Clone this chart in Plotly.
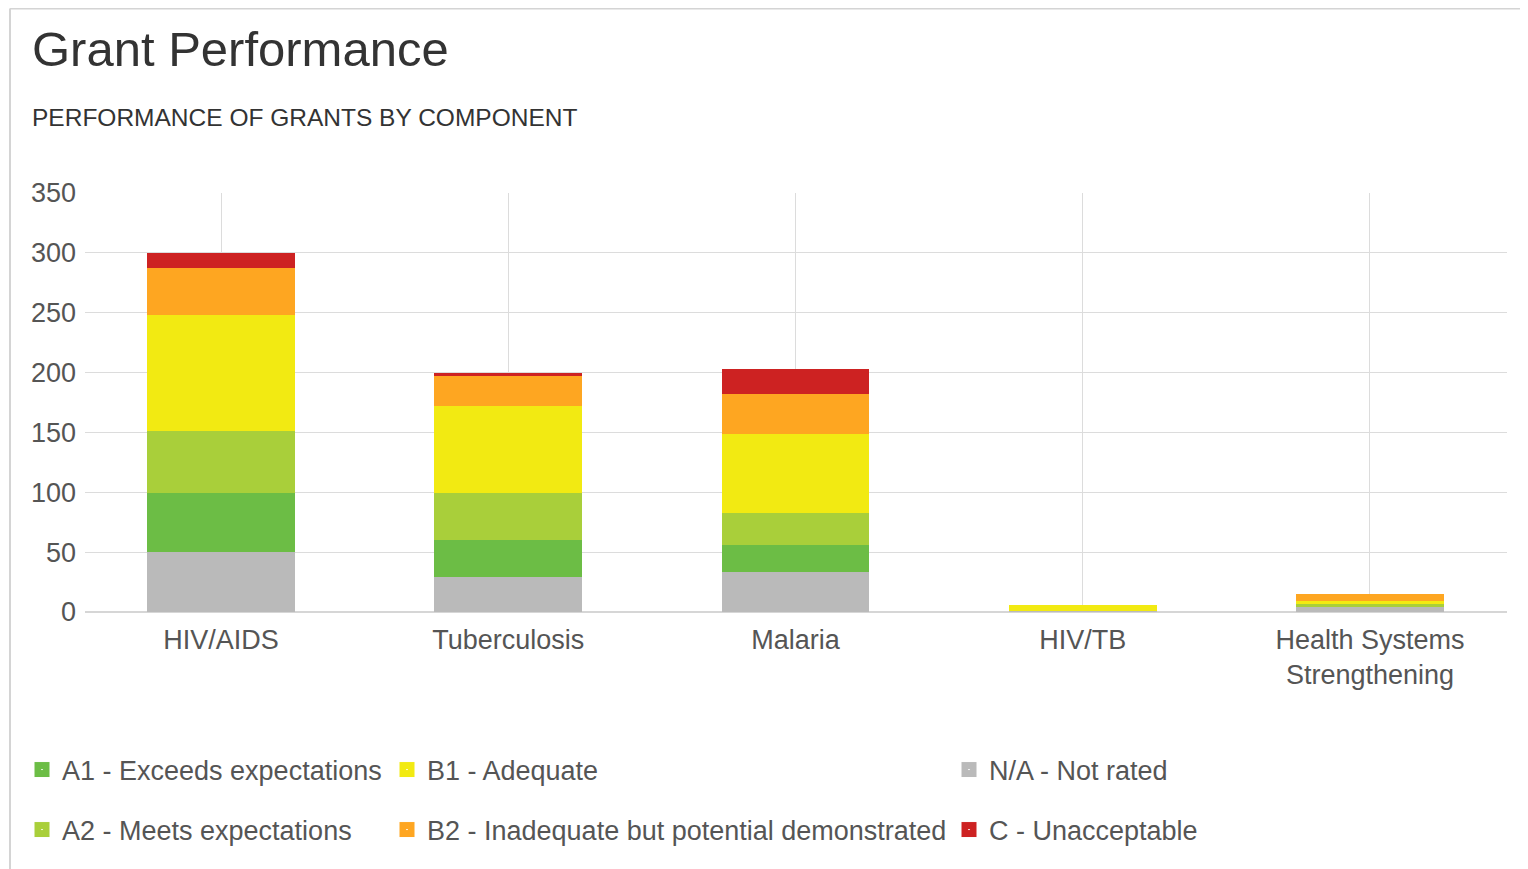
import plotly.graph_objects as go

# Grant counts by component and rating
components = ["HIV/AIDS", "Tuberculosis", "Malaria", "HIV/TB", "Health Systems<br>Strengthening"]
na_not_rated = [50, 29, 33, 1, 4]
a1_exceeds = [49, 31, 23, 0, 0]
a2_meets = [52, 39, 27, 0, 3]
b1_adequate = [97, 73, 66, 5, 2]
b2_inadequate = [39, 25, 33, 0, 6]
c_unacceptable = [13, 3, 21, 0, 0]

series = [
    ("N/A - Not rated", na_not_rated, "#bababa", "legend5"),
    ("A1 - Exceeds expectations", a1_exceeds, "#6cbd45", "legend"),
    ("A2 - Meets expectations", a2_meets, "#a9cf3a", "legend2"),
    ("B1 - Adequate", b1_adequate, "#f2ea12", "legend3"),
    ("B2 - Inadequate but potential demonstrated", b2_inadequate, "#fea621", "legend4"),
    ("C - Unacceptable", c_unacceptable, "#cd2222", "legend6"),
]

# page body has an 8px margin, so work in screen pixels and shift by it
OFF = 8
W, H = 1528 - OFF, 869 - OFF
L, R, T, B = 85 - OFF, 1507 - OFF, 193 - OFF, 612 - OFF  # plot area


def px_x(x):
    return (x - OFF - L) / (R - L)


def px_y(y):
    return (B - (y - OFF)) / (B - T)


FONT = "Liberation Sans, Arial, sans-serif"

fig = go.Figure()

for name, vals, color, lg in series:
    fig.add_trace(go.Bar(
        x=components, y=vals, name=name,
        marker_color=color, marker_line_width=0,
        showlegend=False,
    ))

# legend-only markers, one legend per entry to get the column layout
for name, vals, color, lg in series:
    fig.add_trace(go.Scatter(
        x=[None], y=[None], mode="markers", name=name,
        marker=dict(symbol="square-dot", size=18, color=color,
                    line=dict(color="white", width=1)),
        legend=lg,
    ))

leg_common = dict(
    orientation="v", xanchor="left", yanchor="middle",
    font=dict(family=FONT, size=27, color="#555555"),
    bgcolor="rgba(0,0,0,0)", borderwidth=0,
)
col_x = [22, 387, 949]
row_y = [770, 830]
fig.update_layout(
    legend=dict(x=px_x(col_x[0]), y=px_y(row_y[0]), **leg_common),
    legend2=dict(x=px_x(col_x[0]), y=px_y(row_y[1]), **leg_common),
    legend3=dict(x=px_x(col_x[1]), y=px_y(row_y[0]), **leg_common),
    legend4=dict(x=px_x(col_x[1]), y=px_y(row_y[1]), **leg_common),
    legend5=dict(x=px_x(col_x[2]), y=px_y(row_y[0]), **leg_common),
    legend6=dict(x=px_x(col_x[2]), y=px_y(row_y[1]), **leg_common),
)

fig.update_layout(
    width=W, height=H,
    barmode="stack", bargap=0.485,
    plot_bgcolor="white", paper_bgcolor="white",
    margin=dict(l=L, r=W - R, t=T, b=H - B, pad=0),
    font=dict(family=FONT, size=27, color="#555555"),
    xaxis=dict(
        range=[-0.4735, 4.477],
        showgrid=True, gridcolor="#dcdcdc", gridwidth=1,
        showline=False, ticks="", ticklabelstandoff=9,
        tickfont=dict(size=27, color="#555555"),
        fixedrange=True,
    ),
    yaxis=dict(
        range=[0, 350], dtick=50,
        showgrid=True, gridcolor="#dcdcdc", gridwidth=1,
        zeroline=True, zerolinecolor="#d6d6d6", zerolinewidth=2,
        ticks="", ticklabelstandoff=8,
        tickfont=dict(size=27, color="#555555"),
        fixedrange=True,
    ),
    annotations=[
        dict(text="Grant Performance", x=px_x(30), y=px_y(49),
             xref="paper", yref="paper", xanchor="left", yanchor="middle",
             showarrow=False, font=dict(family=FONT, size=49, color="#333333")),
        dict(text="PERFORMANCE OF GRANTS BY COMPONENT", x=px_x(30), y=px_y(118),
             xref="paper", yref="paper", xanchor="left", yanchor="middle",
             showarrow=False, font=dict(family=FONT, size=24.5, color="#333333")),
    ],
    shapes=[
        dict(type="line", xref="paper", yref="paper",
             x0=px_x(10), x1=px_x(1540), y0=px_y(8.5), y1=px_y(8.5),
             line=dict(color="#d4d4d4", width=2)),
        dict(type="line", xref="paper", yref="paper",
             x0=px_x(10), x1=px_x(10), y0=px_y(8.5), y1=px_y(880),
             line=dict(color="#d4d4d4", width=2)),
    ],
)

fig.write_html("out.html", config={"displayModeBar": False})
